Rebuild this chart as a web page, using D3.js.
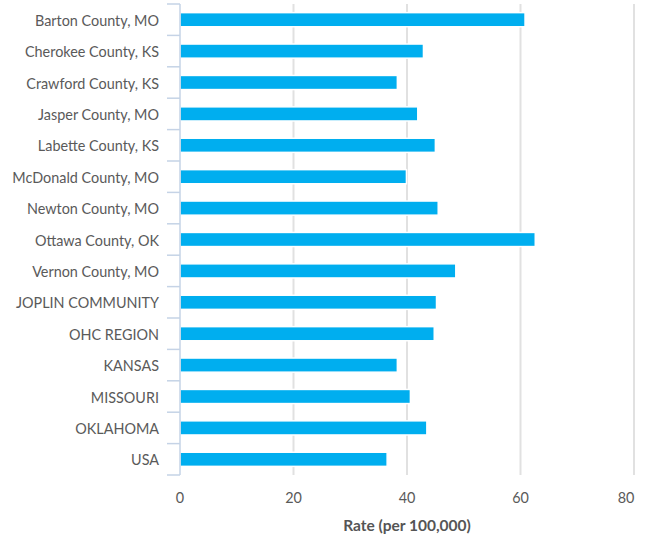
<!DOCTYPE html>
<html><head><meta charset="utf-8">
<script src="https://cdn.jsdelivr.net/npm/d3@7"></script>
<style>body{margin:0;background:#fff}svg{display:block}</style>
</head><body>
<script>
const categories = ["Barton County, MO","Cherokee County, KS","Crawford County, KS","Jasper County, MO","Labette County, KS","McDonald County, MO","Newton County, MO","Ottawa County, OK","Vernon County, MO","JOPLIN COMMUNITY","OHC REGION","KANSAS","MISSOURI","OKLAHOMA","USA"];
const rates = [60.8,42.9,38.3,41.9,45.0,39.9,45.5,62.6,48.6,45.2,44.8,38.3,40.6,43.5,36.5];
const xTicks = [0,20,40,60,80];
const xTitle = "Rate (per 100,000)";

const W=649,H=539;
const svg=d3.select("body").append("svg").attr("width",W).attr("height",H);
const x=d3.scaleLinear().domain([0,80]).range([180,634]);
const y=d3.scaleBand().domain(categories).range([4,475]).paddingInner(0.55).paddingOuter(0.275);
const font="'Source Sans Pro','Lato',sans-serif";

// gridlines
svg.append("g").selectAll("line").data(xTicks.slice(1)).join("line")
  .attr("x1",d=>x(d)).attr("x2",d=>x(d)).attr("y1",4).attr("y2",475)
  .attr("stroke","#e1e1e1").attr("stroke-width",2);

// bars
svg.append("g").selectAll("rect").data(categories).join("rect")
  .attr("x",x(0)).attr("y",d=>y(d)).attr("height",y.bandwidth())
  .attr("width",(d,i)=>x(rates[i])-x(0))
  .attr("fill","#00aeef").attr("stroke","#fff").attr("stroke-width",1.5);

// y axis
const yb=d3.scaleBand().domain(categories).range([4,475]);
const ga=svg.append("g");
ga.append("line").attr("x1",180).attr("x2",180).attr("y1",4).attr("y2",475).attr("stroke","#c5d3e6").attr("stroke-width",1.5);
const bounds=categories.map(c=>yb(c)).concat([475]);
ga.selectAll("line.t").data(bounds).join("line").attr("class","t")
  .attr("x1",167).attr("x2",180).attr("y1",d=>d).attr("y2",d=>d)
  .attr("stroke","#c5d3e6").attr("stroke-width",1.5);
ga.selectAll("text").data(categories).join("text")
  .attr("x",159).attr("y",d=>yb(d)+yb.bandwidth()/2+1).attr("dy","0.35em")
  .attr("text-anchor","end").attr("font-family",font).attr("font-size",14.4).attr("fill","#5a5a5a")
  .text(d=>d);

// x tick labels
svg.append("g").selectAll("text").data(xTicks).join("text")
  .attr("x",(d,i)=>i===xTicks.length-1?x(d)-8:x(d)).attr("y",498).attr("dy","0.35em")
  .attr("text-anchor","middle").attr("font-family",font).attr("font-size",14.4).attr("fill","#5a5a5a")
  .text(d=>d);

svg.append("text").attr("x",407).attr("y",526).attr("dy","0.35em").attr("text-anchor","middle")
  .attr("font-family",font).attr("font-size",15.5).attr("font-weight","bold").attr("fill","#555")
  .text(xTitle);
</script>
</body></html>
